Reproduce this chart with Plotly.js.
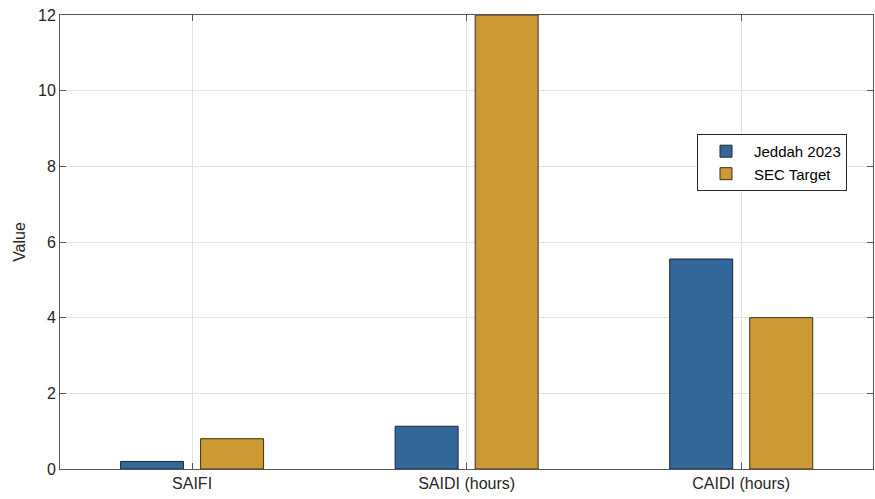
<!DOCTYPE html>
<html>
<head>
<meta charset="utf-8">
<script src="https://cdn.plot.ly/plotly-3.0.1.min.js"></script>
<style>html,body{margin:0;padding:0;background:#fff;}#chart{width:875px;height:499px;}</style>
</head>
<body>
<div id="chart"></div>
<script>
const categories = ["SAIFI", "SAIDI (hours)", "CAIDI (hours)"];
const jeddah2023 = [0.2, 1.13, 5.55];
const secTarget = [0.8, 12, 4.0];
const seriesNames = ["Jeddah 2023", "SEC Target"];
const yTicks = [0, 2, 4, 6, 8, 10, 12];

const font = {family: "Liberation Sans, Arial, sans-serif", size: 16, color: "#262626"};
const traces = [
  {type: "bar", name: seriesNames[0], x: categories, y: jeddah2023,
   marker: {color: "#336699", line: {color: "#1e2a36", width: 1}}},
  {type: "bar", name: seriesNames[1], x: categories, y: secTarget,
   marker: {color: "#cc9933", line: {color: "#3a3020", width: 1}}}
];
const layout = {
  width: 875, height: 499,
  margin: {l: 60, r: 2, t: 15, b: 30},
  paper_bgcolor: "#ffffff", plot_bgcolor: "#ffffff",
  font: font,
  barmode: "group", bargap: 0.417, bargroupgap: 0.213,
  showlegend: true,
  legend: {x: 0.7835, xanchor: "left", y: 0.738, yanchor: "top",
           bgcolor: "#ffffff", bordercolor: "#262626", borderwidth: 1,
           itemwidth: 46,
           font: {family: font.family, size: 15, color: "#000"},
           tracegroupgap: 0},
  xaxis: {type: "category", range: [-0.481, 2.48],
          showline: true, linecolor: "#555", linewidth: 1, mirror: "ticks",
          ticks: "inside", ticklen: 6, tickcolor: "#555",
          showgrid: true, gridcolor: "#e3e3e3", zeroline: false,
          tickfont: font},
  yaxis: {range: [0, 12], tickvals: yTicks, ticktext: yTicks.map(String),
          showline: true, linecolor: "#555", linewidth: 1, mirror: "ticks",
          ticks: "inside", ticklen: 6, tickcolor: "#555",
          showgrid: true, gridcolor: "#e3e3e3", zeroline: false,
          tickfont: font,
          title: {text: "Value", font: font, standoff: 8}}
};
Plotly.newPlot("chart", traces, layout, {displayModeBar: false, staticPlot: true});
</script>
</body>
</html>
